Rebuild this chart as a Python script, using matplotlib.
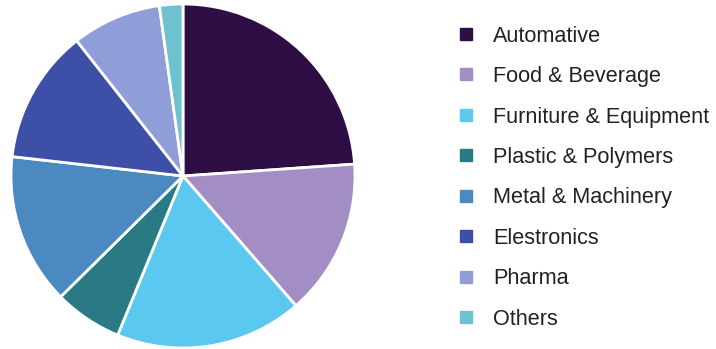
import matplotlib.pyplot as plt
from matplotlib.lines import Line2D

# data (share in %)
segments = ["Automative", "Food & Beverage", "Furniture & Equipment", "Plastic & Polymers",
            "Metal & Machinery", "Elestronics", "Pharma", "Others"]
shares = [23.9, 14.7, 17.6, 6.4, 14.2, 12.6, 8.4, 2.2]
colors = ["#2e0f45", "#a28ec4", "#5bc8f0", "#2a7a86", "#4a8ac0", "#3d4fa6", "#8f9ed8", "#6ec2d0"]

plt.rcParams['font.family'] = ['Liberation Sans', 'DejaVu Sans']

fig = plt.figure(figsize=(7.16, 3.49), dpi=100)
ax = fig.add_axes([11 / 716, 1 / 349, 344 / 716, 344 / 349])
ax.pie(shares, colors=colors, startangle=90, counterclock=False, radius=1,
       wedgeprops=dict(edgecolor="white", linewidth=2))
ax.set_xlim(-1, 1)
ax.set_ylim(-1, 1)
ax.set_aspect("equal")

handles = [Line2D([], [], marker="s", linestyle="none", markersize=8,
                  markerfacecolor=c, markeredgecolor=c) for c in colors]
fig.legend(handles, segments, loc="upper left", bbox_to_anchor=(436 / 716, 1 - 6 / 349),
           frameon=False, fontsize=15.6, labelspacing=0.9, handletextpad=0.75,
           handlelength=1.0, labelcolor="#222222")

fig.savefig("out.png", dpi=100)
